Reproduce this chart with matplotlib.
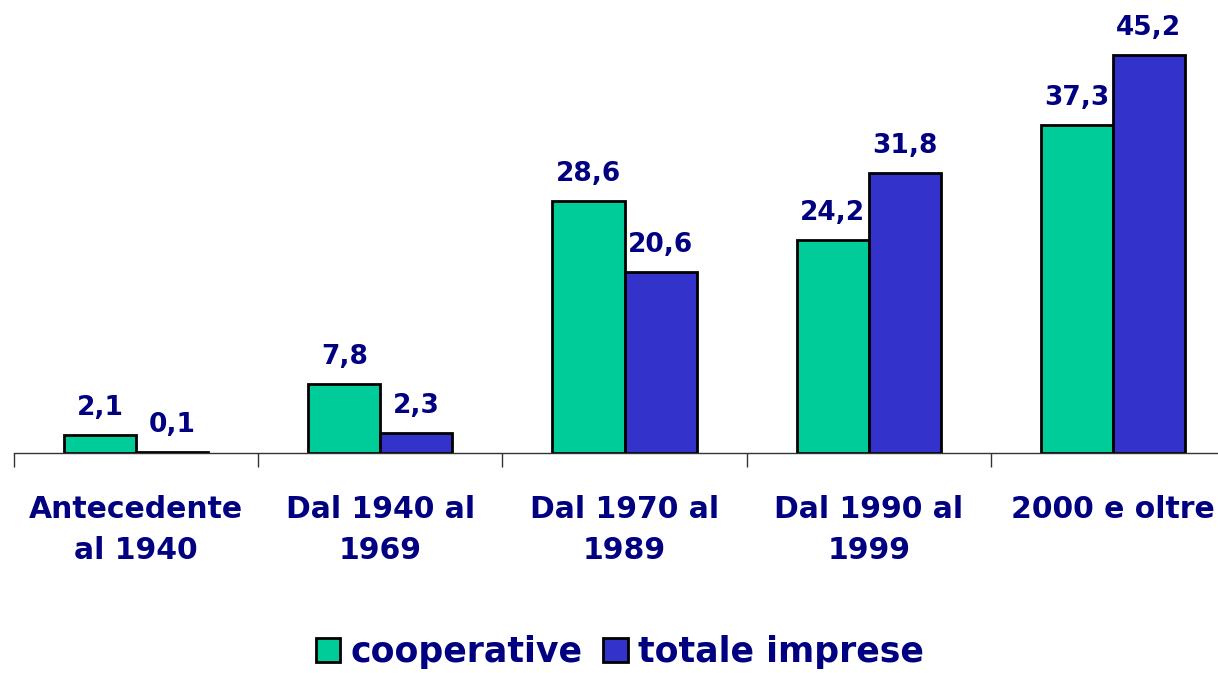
import numpy as np
import matplotlib as mpl
mpl.use('Agg')
import matplotlib.pyplot as plt

# data
categories = ['Antecedente\nal 1940', 'Dal 1940 al\n1969', 'Dal 1970 al\n1989',
              'Dal 1990 al\n1999', '2000 e oltre']
cooperative = [2.1, 7.8, 28.6, 24.2, 37.3]
totale_imprese = [0.1, 2.3, 20.6, 31.8, 45.2]

green = '#00CC99'
blue = '#3333CC'
navy = '#000080'

plt.rcParams['font.family'] = ['DejaVu Sans']
plt.rcParams['font.weight'] = 'bold'

fig = plt.figure(figsize=(12.18, 6.73), dpi=100)
ax = fig.add_axes([14/1218, 220/673, 1221/1218, 440/673])

x = np.arange(len(categories))
w = 0.295
b1 = ax.bar(x - w/2, cooperative, w, color=green, edgecolor='black', lw=2, label='cooperative')
b2 = ax.bar(x + w/2, totale_imprese, w, color=blue, edgecolor='black', lw=2, label='totale imprese')

for bars, vals in ((b1, cooperative), (b2, totale_imprese)):
    for r, v in zip(bars, vals):
        ax.annotate(('%.1f' % v).replace('.', ','), (r.get_x() + r.get_width()/2, v),
                    xytext=(0, 10), textcoords='offset points', ha='center', va='bottom',
                    fontsize=19, fontweight='bold', color=navy)

ax.set_xlim(-0.5, len(categories) - 0.5)
ax.set_ylim(0, 50)
for s in ('top', 'right', 'left'):
    ax.spines[s].set_visible(False)
ax.spines['bottom'].set_color('#333333')
ax.spines['bottom'].set_linewidth(1)
ax.set_yticks([])

# category labels, boundary ticks
ax.set_xticks(x)
ax.set_xticklabels(categories, fontsize=21.5, fontweight='bold', color=navy, linespacing=1.55)
ax.tick_params(axis='x', which='major', length=0, pad=30)
ax.set_xticks(np.arange(-0.5, len(categories)), minor=True)
ax.tick_params(axis='x', which='minor', length=10, width=1, color='#333333', direction='out')

leg = fig.legend(handles=[b1, b2], loc='center', bbox_to_anchor=(620/1218, 1 - 652/673),
                 ncol=2, frameon=False, prop=dict(size=25, weight='bold'),
                 handlelength=0.7, handleheight=0.7, handletextpad=0.3, columnspacing=0.6)
for t in leg.get_texts():
    t.set_color(navy)

plt.savefig('out.png', dpi=100)
